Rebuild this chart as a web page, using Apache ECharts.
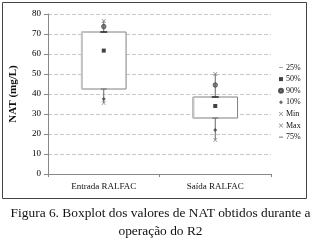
<!DOCTYPE html>
<html>
<head>
<meta charset="utf-8">
<script src="https://cdn.jsdelivr.net/npm/echarts@6/dist/echarts.min.js"></script>
<style>
  html, body { margin: 0; padding: 0; background: #fff; }
  #chart { width: 321px; height: 245px; }
</style>
</head>
<body>
<div id="chart"></div>
<script>
const myChart = echarts.init(document.getElementById("chart"));

// dados
const categories = ["Entrada RALFAC", "Saída RALFAC"];
const p25 = [42.5, 28];
const p50 = [61.7, 34];
const p90 = [73.7, 44.5];
const p10 = [37.5, 22];
const minV = [35.5, 17];
const maxV = [76.5, 50];
const p75 = [71, 38.5];
const yTicks = [0, 10, 20, 30, 40, 50, 60, 70, 80];

const serif = "'Liberation Serif', 'DejaVu Serif', serif";
const dashIcon = "path://M0,0 L10,0 L10,2 L0,2 Z";
const crossIcon = "path://M0,0L1.5,0L5,3.5L8.5,0L10,0L10,1.5L6.5,5L10,8.5L10,10L8.5,10L5,6.5L1.5,10L0,10L0,8.5L3.5,5L0,1.5Z";

const boxData = categories.map((c, i) => [i, minV[i], p25[i], p75[i], maxV[i]]);

// caixa + bigodes desenhados pelas coordenadas do eixo
function renderBox(params, api) {
  const i = api.value(0);
  const lo = api.coord([i, api.value(1)]);
  const q1 = api.coord([i, api.value(2)]);
  const q3 = api.coord([i, api.value(3)]);
  const hi = api.coord([i, api.value(4)]);
  const w = api.size([1, 0])[0] * 0.4;
  const x = q1[0];
  return {
    type: "group",
    children: [
      { type: "line", shape: { x1: x, y1: hi[1], x2: x, y2: q3[1] }, style: { stroke: "#666", lineWidth: 1 } },
      { type: "line", shape: { x1: x, y1: q1[1], x2: x, y2: lo[1] }, style: { stroke: "#666", lineWidth: 1 } },
      { type: "rect", shape: { x: x - w / 2, y: q3[1], width: w, height: q1[1] - q3[1] }, style: { fill: "#fff", stroke: "#808080", lineWidth: 1 } },
      { type: "line", shape: { x1: x - w / 2 + 0.5, y1: q3[1], x2: x - w / 2 + 0.5, y2: q1[1] }, style: { stroke: "#c4c4c4", lineWidth: 2 } }
    ]
  };
}

function pts(arr) {
  return arr.map((v, i) => [i, v]);
}

let option = {
  animation: false,
  grid: { left: 47, right: 50, top: 14, bottom: 71 },
  legend: {
    orient: "vertical",
    left: 273,
    top: 58,
    itemWidth: 4,
    itemHeight: 4,
    itemGap: 2.6,
    textStyle: { fontFamily: serif, fontSize: 8, color: "#111", lineHeight: 9, padding: [0, 0, 0, -2] },
    data: ["25%", "50%", "90%", "10%", "Min", "Max", "75%"]
  },
  xAxis: {
    type: "category",
    data: categories,
    axisLine: { lineStyle: { color: "#888" } },
    axisTick: { show: true, length: 3, lineStyle: { color: "#888" } },
    axisLabel: { fontFamily: serif, fontSize: 9, color: "#111", margin: 8 }
  },
  yAxis: {
    type: "value",
    min: 0,
    max: 80,
    interval: 10,
    name: "NAT (mg/L)",
    nameLocation: "middle",
    nameGap: 29,
    nameTextStyle: { fontFamily: serif, fontSize: 11, fontWeight: "bold", color: "#111" },
    axisLine: { show: true, lineStyle: { color: "#888" } },
    axisTick: { show: true, length: 4, lineStyle: { color: "#888" } },
    axisLabel: {
      fontFamily: serif, fontSize: 9, color: "#000", margin: 7,
      formatter: v => (yTicks.includes(v) ? String(v) : "")
    },
    splitLine: { lineStyle: { color: "#c8c8c8", type: [4, 2] } }
  },
  series: [
    { type: "custom", name: "box", renderItem: renderBox, data: boxData, encode: { x: 0, y: [1, 2, 3, 4] }, z: 1 },
    { name: "25%", type: "scatter", symbol: dashIcon, symbolSize: [6, 1.5], itemStyle: { color: "#777" }, data: pts(p25), z: 3 },
    { name: "50%", type: "scatter", symbol: "rect", symbolSize: 4, itemStyle: { color: "#111" }, data: pts(p50), z: 3 },
    { name: "90%", type: "scatter", symbol: "circle", symbolSize: 4.5, itemStyle: { color: "#666", borderColor: "#333", borderWidth: 0.8 }, data: pts(p90), z: 3 },
    { name: "10%", type: "scatter", symbol: "diamond", symbolSize: 4, itemStyle: { color: "#444" }, data: pts(p10), z: 3 },
    { name: "Min", type: "scatter", symbol: crossIcon, symbolSize: 4, itemStyle: { color: "#888" }, data: pts(minV), z: 3 },
    { name: "Max", type: "scatter", symbol: crossIcon, symbolSize: 4, itemStyle: { color: "#777" }, data: pts(maxV), z: 3 },
    { name: "75%", type: "scatter", symbol: dashIcon, symbolSize: [7, 1.8], itemStyle: { color: "#222" }, data: pts(p75), z: 3 }
  ],
  graphic: [
    { type: "rect", shape: { x: 2.5, y: 2.5, width: 304, height: 196 }, style: { fill: "none", stroke: "#444", lineWidth: 1 }, silent: true },
    { type: "text", left: "center", top: 207, style: { text: "Figura 6. Boxplot dos valores de NAT obtidos durante a", font: "13.4px " + serif, fill: "#111" } },
    { type: "text", left: "center", top: 225, style: { text: "operação do R2", font: "13.4px " + serif, fill: "#111" } }
  ]
};

myChart.setOption(option);
</script>
</body>
</html>
